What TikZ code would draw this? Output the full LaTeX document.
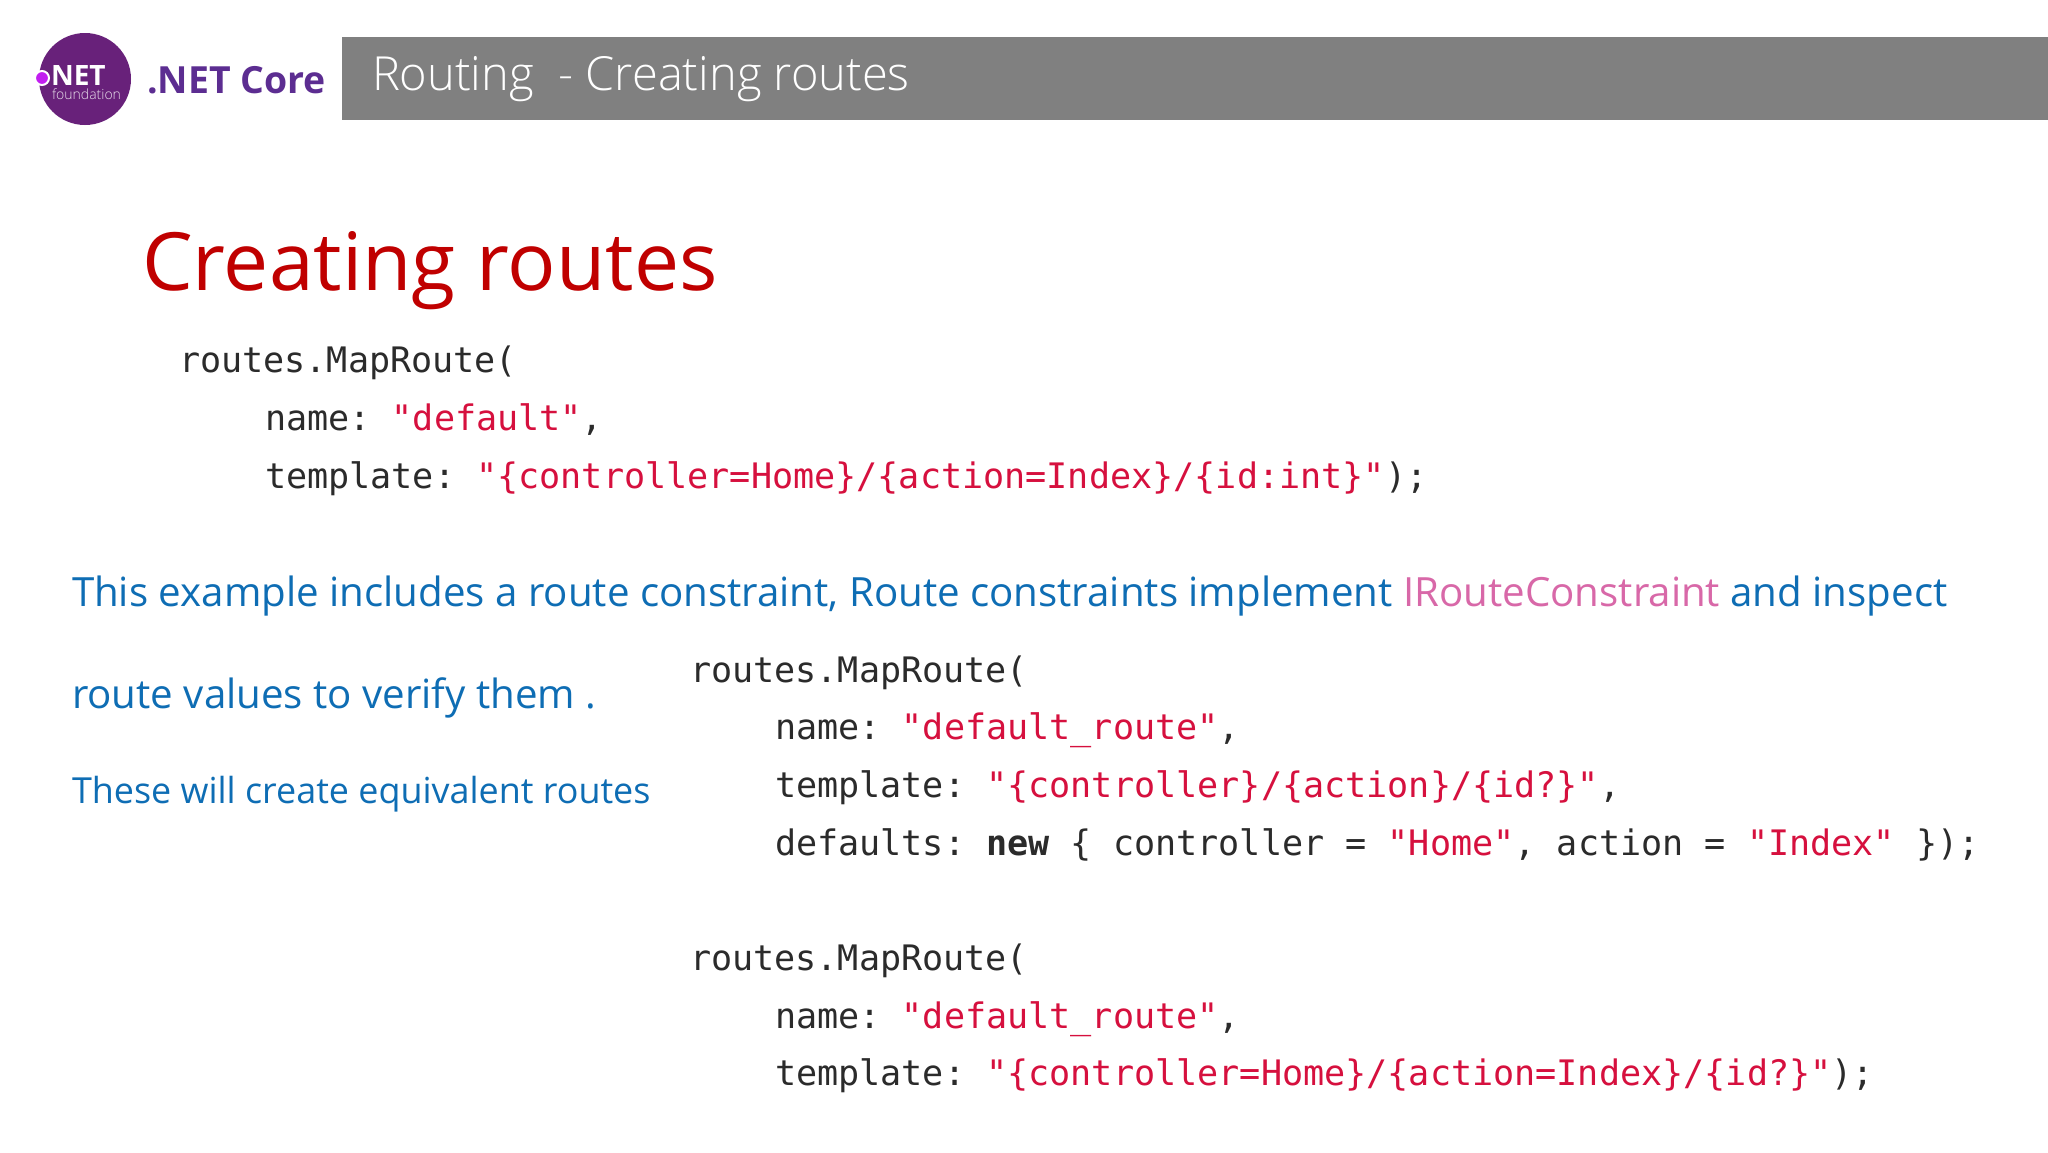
\documentclass[tikz,border=0pt]{standalone}
\usepackage{fontspec}
\setmainfont{Open Sans}
\newfontfamily\lightfont{Open Sans Light}
\newfontfamily\codefont{DejaVu Sans Mono}
\frenchspacing
\definecolor{barGray}{HTML}{808080}
\definecolor{netPurple}{HTML}{68217A}
\definecolor{corePurple}{HTML}{5C2D91}
\definecolor{dotPurple}{HTML}{C21EF0}
\definecolor{titleRed}{HTML}{C00000}
\definecolor{bodyBlue}{HTML}{0E6DB4}
\definecolor{linkPink}{HTML}{D868A8}
\definecolor{codeRed}{HTML}{D6103E}
\definecolor{codeDark}{HTML}{2B2B2B}
\newcommand{\rs}[1]{\textcolor{codeRed}{#1}}
\tikzset{
  txt/.style={anchor=base west,inner sep=0pt,outer sep=0pt},
  codeline/.style={txt,text=codeDark,font=\codefont\fontsize{17.55}{20}\selectfont},
  bluetext/.style={txt,text=bodyBlue,font=\fontsize{20.13}{24}\selectfont},
}
\begin{document}
\begin{tikzpicture}[x=0.5pt,y=-0.5pt]
\useasboundingbox (0,0) rectangle (2048,1152);
\fill[white] (0,0) rectangle (2048,1152);
% header
\fill[barGray] (342,37) rectangle (2048,120);
\node[txt,text=white,font=\lightfont\fontsize{23.5}{26}\selectfont] (head) at (372,90) {Routing\ \ - Creating routes};
% logo
\fill[netPurple] (85,79) circle (46);
\node[txt,text=white,font=\bfseries\fontsize{14}{16}\selectfont] (net) at (51,85) {NET};
\node[txt,text=white!85!netPurple,font=\lightfont\fontsize{7}{8}\selectfont] (found) at (52,99) {foundation};
\fill[dotPurple,draw=white,line width=1pt] (42,78) circle (7);
\node[txt,text=corePurple,font=\bfseries\fontsize{18.7}{22}\selectfont] (core) at (147,93) {.NET Core};
% title
\node[txt,text=titleRed,font=\fontsize{40.2}{48}\selectfont] (title) at (142,290) {Creating routes};
% first code block
\node[codeline] (a1) at (179,372) {routes.MapRoute(};
\node[codeline] (a2) at (265,430) {name: \rs{"default"},};
\node[codeline] (a3) at (265,488) {template: \rs{"\{controller=Home\}/\{action=Index\}/\{id:int\}"});};
% body text
\node[bluetext] (b1) at (72,606) {This example includes a route constraint, Route constraints implement \textcolor{linkPink}{IRouteConstraint} and inspect};
\node[bluetext] (b2) at (72,708) {route values to verify them .};
\node[txt,text=bodyBlue,font=\fontsize{17.95}{21}\selectfont] (b3) at (72,803) {These will create equivalent routes};
% second code block
\node[codeline] (c1) at (690,682) {routes.MapRoute(};
\node[codeline] (c2) at (775,739) {name: \rs{"default\_route"},};
\node[codeline] (c3) at (775,797) {template: \rs{"\{controller\}/\{action\}/\{id?\}"},};
\node[codeline] (c4) at (775,855) {defaults: {\bfseries new} \{ controller = \rs{"Home"}, action = \rs{"Index"} \});};
% third code block
\node[codeline] (d1) at (690,970) {routes.MapRoute(};
\node[codeline] (d2) at (775,1028) {name: \rs{"default\_route"},};
\node[codeline] (d3) at (775,1085) {template: \rs{"\{controller=Home\}/\{action=Index\}/\{id?\}"});};
\end{tikzpicture}
\end{document}
